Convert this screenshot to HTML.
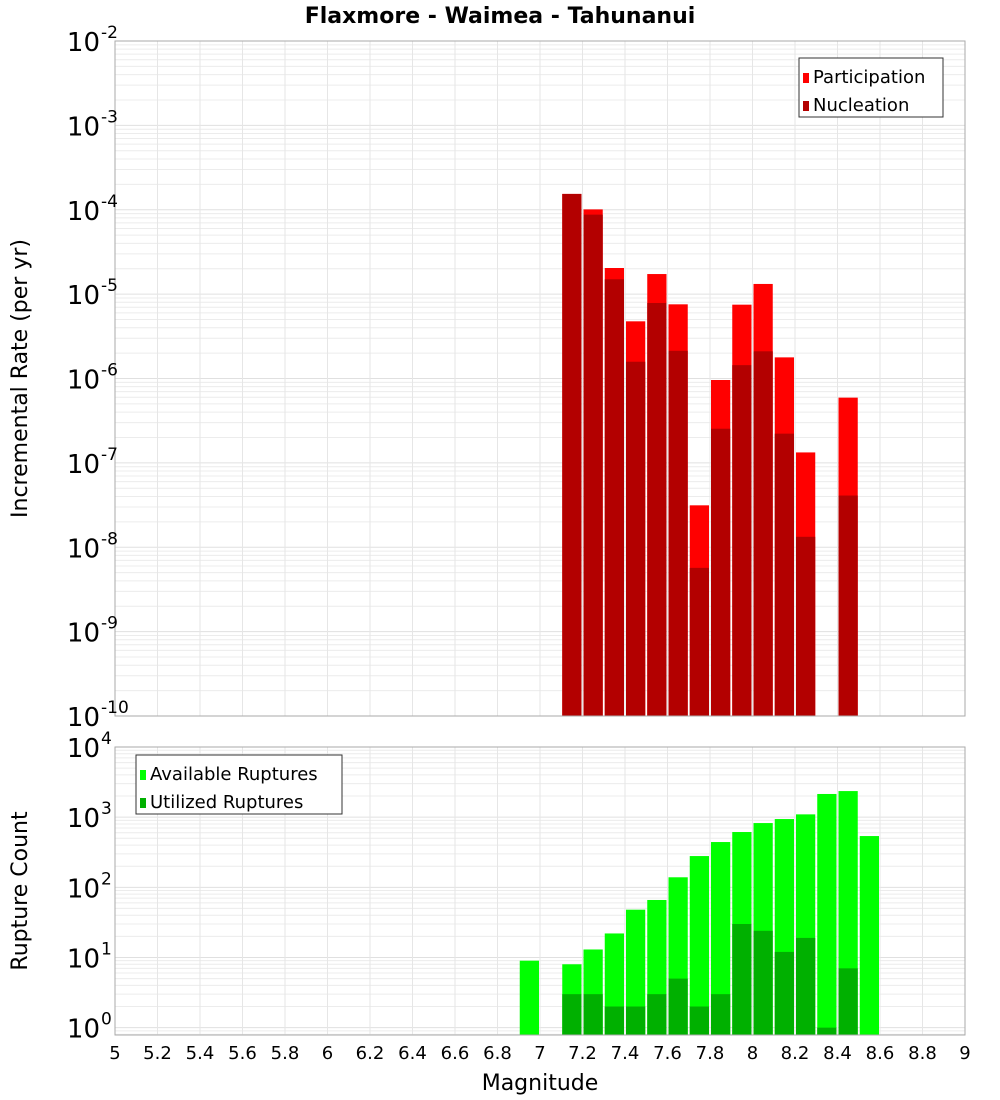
<!DOCTYPE html>
<html><head><meta charset="utf-8"><style>
body{margin:0;background:#fff;}
svg{display:block;font-family:"DejaVu Sans","Liberation Sans",sans-serif;}
</style></head><body>
<svg id="chart" width="1000" height="1100" xmlns="http://www.w3.org/2000/svg">
<text x="500" y="23" text-anchor="middle" font-size="22" font-weight="bold">Flaxmore - Waimea - Tahunanui</text>
<g id="top"></g>
<g id="bot"></g>
</svg>
<script>
const binCenters=[6.95,7.15,7.25,7.35,7.45,7.55,7.65,7.75,7.85,7.95,8.05,8.15,8.25,8.35,8.45,8.55];
const participation=[0,1.54e-4,1.01e-4,2.04e-5,4.76e-6,1.73e-5,7.57e-6,3.14e-8,9.6e-7,7.5e-6,1.32e-5,1.78e-6,1.33e-7,0,5.93e-7,0];
const nucleation=[0,1.54e-4,8.75e-5,1.5e-5,1.58e-6,7.85e-6,2.13e-6,5.7e-9,2.54e-7,1.44e-6,2.1e-6,2.22e-7,1.33e-8,0,4.1e-8,0];
const available=[9,8,13,22,48,66,139,279,442,614,824,940,1096,2140,2354,538];
const utilized=[0,3,3,2,2,3,5,2,3,30,24,12,19,1,7,0];
const xTicks=[5,5.2,5.4,5.6,5.8,6,6.2,6.4,6.6,6.8,7,7.2,7.4,7.6,7.8,8,8.2,8.4,8.6,8.8,9];
const topDecades=[-10,-9,-8,-7,-6,-5,-4,-3,-2];
const botDecades=[0,1,2,3,4];

const NS="http://www.w3.org/2000/svg";
const X0=115,X1=965;
const xs=v=>X0+(v-5)/4*(X1-X0);
function mk(p,tag,at,txt){const e=document.createElementNS(NS,tag);for(const k in at)e.setAttribute(k,at[k]);if(txt!==undefined)e.textContent=txt;p.appendChild(e);return e;}
function panel(g,top,bot,lmin,lmax,decs,series,colors,names,title,legend){
  const ys=v=>bot-(Math.log10(v)-lmin)/(lmax-lmin)*(bot-top);
  const bg=mk(g,'rect',{x:X0,y:top,width:X1-X0,height:bot-top,fill:'#fff'});
  
  for(let d=Math.floor(lmin);d<Math.ceil(lmax);d++)for(let m=1;m<10;m++){const v=m*Math.pow(10,d);const lv=Math.log10(v);if(lv<lmin||lv>lmax)continue;
    const l=mk(g,'line',{x1:X0,x2:X1,y1:ys(v),y2:ys(v),stroke:m==1?'#e0e0e0':'#ececec','stroke-width':1});
    }
  xTicks.forEach(t=>{const l=mk(g,'line',{x1:xs(t),x2:xs(t),y1:top,y2:bot,stroke:'#e6e6e6'});
    });
  series.forEach((arr,si)=>{arr.forEach((v,i)=>{if(!v)return;const c=binCenters[i];const x=xs(c-0.05)+1,w=xs(c+0.05)-xs(c-0.05)-2;const y=Math.max(ys(v),top);
    const r=mk(g,'rect',{x:x,y:y,width:w,height:bot-y,fill:colors[si]});
    });});
  const fr=mk(g,'rect',{x:X0,y:top,width:X1-X0,height:bot-top,fill:'none',stroke:'#aaa'});
  
  decs.forEach(d=>{const y=ys(Math.pow(10,d));const t=mk(g,'text',{x:100,y:y+10,'text-anchor':'end','font-size':26},'10');
    
    const s=mk(g,'text',{x:101,y:y-3,'font-size':17},String(d));
    });
  const cy=(top+bot)/2;
  const tt=mk(g,'text',{x:0,y:0,'font-size':22,'text-anchor':'middle',transform:`translate(27,${cy}) rotate(-90)`},title);
  
  const lg=mk(g,'g',{});
  const lb=mk(lg,'rect',{x:legend.x,y:legend.y,width:legend.w,height:59,fill:'#fff',stroke:'#333'});
  
  legend.labels.forEach((lab,i)=>{const yy=legend.y+14+i*28;
    const sw=mk(lg,'rect',{x:legend.x+4,y:yy+1,width:6,height:10,fill:colors[i]});
    
    const t=mk(lg,'text',{x:legend.x+14,y:yy+11,'font-size':18},lab);
    });
}
panel(document.getElementById('top'),41,716,-10,-2,topDecades,[participation,nucleation],['#ff0000','#b30000'],['participation','nucleation'],'Incremental Rate (per yr)',{x:799,y:58,w:144,labels:['Participation','Nucleation']});
panel(document.getElementById('bot'),747,1035,-0.105,4,botDecades,[available,utilized],['#00ff00','#00b000'],['available','utilized'],'Rupture Count',{x:136,y:755,w:206,labels:['Available Ruptures','Utilized Ruptures']});
const svg=document.getElementById('chart');
xTicks.forEach(t=>{const e=mk(svg,'text',{x:xs(t),y:1059,'text-anchor':'middle','font-size':18},String(t));
  });
const xt=mk(svg,'text',{x:540,y:1090,'text-anchor':'middle','font-size':22},'Magnitude');

</script>
</body></html>
